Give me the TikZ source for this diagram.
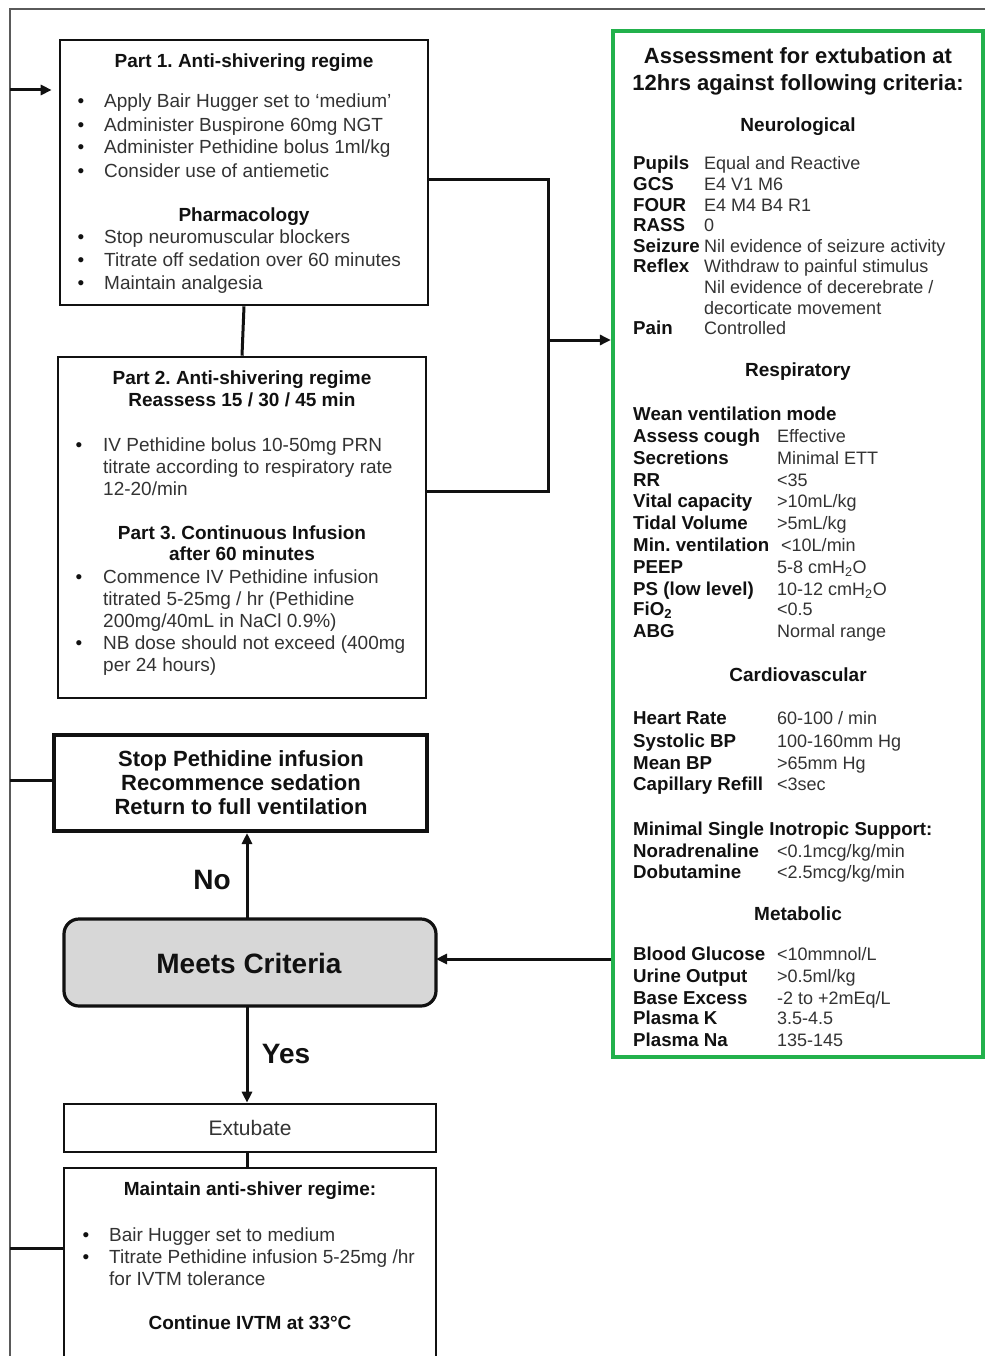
\documentclass[tikz,border=0pt]{standalone}
\usepackage{fontspec}
\setmainfont{Liberation Sans}
\usetikzlibrary{arrows.meta}
\frenchspacing

\definecolor{framegray}{HTML}{5A5A5A}
\definecolor{critgreen}{HTML}{22B14C}
\definecolor{boxgray}{HTML}{D7D7D7}
\definecolor{txt}{HTML}{333333}
\definecolor{ink}{HTML}{111111}

% bullet item: name, bullet x, text x, y, text
\newcommand\bitem[5]{%
  \node[bul] (#1b) at (#2,#4) {\textbullet};
  \node[tl] (#1) at (#3,#4) {#5};}
% continuation line of a bullet item
\newcommand\bcont[4]{\node[tl] (#1) at (#2,#3) {#4};}
% criteria row: name, y, label, value (value column in \valx)
\newcommand\valx{704}
\newcommand\crit[4]{%
  \node[clab] (#1l) at (633,#2) {#3};
  \node[cval] (#1v) at (\valx,#2) {#4};}

\begin{document}
\begin{tikzpicture}[x=1pt,y=-1pt,
  box/.style={draw=ink, line width=2.6pt, inner sep=0, fill=white},
  stopbox/.style={box, line width=4pt},
  meets/.style={box, line width=3.2pt, fill=boxgray, rounded corners=15pt},
  critbox/.style={draw=critgreen, line width=4.2pt, inner sep=0},
  conn/.style={draw=ink, line width=3pt},
  arr/.style={conn, -{Triangle[length=11pt,width=10pt]}},
  t/.style={inner sep=0, text height=0.72em, text depth=0pt, text=txt,
    yshift=-4pt, font=\fontsize{19}{23}\selectfont},
  tb/.style={t, text=ink, font=\fontsize{19}{23}\selectfont\bfseries},
  tl/.style={t, anchor=west},
  bul/.style={t, text=ink},
  stoptxt/.style={tb, font=\fontsize{22}{24}\selectfont\bfseries},
  big/.style={tb, font=\fontsize{28}{32}\selectfont\bfseries},
  gtitle/.style={tb, font=\fontsize{22}{27}\selectfont\bfseries},
  clab/.style={tb, anchor=west, font=\fontsize{18.7}{23}\selectfont\bfseries},
  cval/.style={t, anchor=west, font=\fontsize{18}{21}\selectfont},
]
\useasboundingbox (0,0) rectangle (985,1356);
\clip (0,0) rectangle (985,1356);
\fill[white] (0,0) rectangle (985,1356);

% page frame
\draw[framegray, line width=1.6pt] (985,9) -- (10,9) -- (10,1370);

% ---------------- left column boxes ----------------
\node[box, minimum width=368pt, minimum height=265pt] (p1) at (244,172.5) {};
\node[box, minimum width=368pt, minimum height=341pt] (p2) at (242,527.5) {};
\node[stopbox, minimum width=373pt, minimum height=96pt] (st) at (240.5,783) {};
\node[meets, minimum width=372pt, minimum height=87pt] (mc) at (250,962.5) {};
\node[box, minimum width=372pt, minimum height=48pt] (ex) at (250,1128) {};
\node[box, minimum width=372pt, minimum height=212pt] (mt) at (250,1274) {};

% ---------------- criteria box ----------------
\node[critbox, minimum width=370pt, minimum height=1026pt] (gb) at (798,544) {};

% ---------------- connectors ----------------
\coordinate (fa) at (10,90);
\draw[arr, shorten >=7pt] (fa) -- (p1.west |- fa);
\draw[conn] (p1.south) -- (p2.north);
\coordinate (ja) at (548,180);
\coordinate (jb) at (548,491);
\coordinate (jm) at (548,340);
\draw[conn] (p1.east |- ja) -- (ja) -- (jb) -- (p2.east |- jb);
\draw[arr] (jm) -- (gb.west |- jm);
\coordinate (fs) at (10,780);
\draw[conn] (fs) -- (st.west |- fs);
\coordinate (mn) at (247,919);
\draw[arr] (mn) -- (mn |- st.south);
\coordinate (mr) at (436,959);
\draw[arr] (gb.west |- mr) -- (mr);
\coordinate (ms) at (247,1006);
\draw[arr] (ms) -- (ms |- ex.north);
\draw[conn] (ex.south -| ms) -- (mt.north -| ms);
\coordinate (fm) at (10,1248);
\draw[conn] (fm) -- (mt.west |- fm);

\node[big] (no) at (212,882) {No};
\node[big] (yes) at (286,1056) {Yes};
\node[big] (mct) at (249,966) {Meets Criteria};
\node[t, font=\fontsize{21}{24}\selectfont] (ext) at (250,1128) {Extubate};

% ---------------- Part 1 ----------------
\node[tb] (p1t) at (244,60) {Part 1. Anti-shivering regime};
\bitem{p1a}{81}{104}{100}{Apply Bair Hugger set to ‘medium’}
\bitem{p1b}{81}{104}{124}{Administer Buspirone 60mg NGT}
\bitem{p1c}{81}{104}{146}{Administer Pethidine bolus 1ml/kg}
\bitem{p1d}{81}{104}{170}{Consider use of antiemetic}
\node[tb] (p1h) at (244,214) {Pharmacology};
\bitem{p1e}{81}{104}{236}{Stop neuromuscular blockers}
\bitem{p1f}{81}{104}{259}{Titrate off sedation over 60 minutes}
\bitem{p1g}{81}{104}{282}{Maintain analgesia}

% ---------------- Part 2 / Part 3 ----------------
\node[tb] (p2t) at (242,377) {Part 2. Anti-shivering regime};
\node[tb] (p2s) at (242,399) {Reassess 15 / 30 / 45 min};
\bitem{p2a}{79}{103}{444}{IV Pethidine bolus 10-50mg PRN}
\bcont{p2a2}{103}{466}{titrate according to respiratory rate}
\bcont{p2a3}{103}{488}{12-20/min}
\node[tb] (p3t) at (242,532) {Part 3. Continuous Infusion};
\node[tb] (p3s) at (242,553) {after 60 minutes};
\bitem{p3a}{79}{103}{576}{Commence IV Pethidine infusion}
\bcont{p3a2}{103}{598}{titrated 5-25mg / hr (Pethidine}
\bcont{p3a3}{103}{620}{200mg/40mL in NaCl 0.9\%)}
\bitem{p3b}{79}{103}{642}{NB dose should not exceed (400mg}
\bcont{p3b2}{103}{664}{per 24 hours)}

% ---------------- stop box ----------------
\node[stoptxt] (st1) at (241,759) {Stop Pethidine infusion};
\node[stoptxt] (st2) at (241,783) {Recommence sedation};
\node[stoptxt] (st3) at (241,807) {Return to full ventilation};

% ---------------- maintain box ----------------
\node[tb] (mtt) at (250,1188) {Maintain anti-shiver regime:};
\bitem{mta}{86}{109}{1234}{Bair Hugger set to medium}
\bitem{mtb}{86}{109}{1256}{Titrate Pethidine infusion 5-25mg /hr}
\bcont{mtb2}{109}{1278}{for IVTM tolerance}
\node[tb] (mtc) at (250,1322) {Continue IVTM at 33°C};

% ---------------- criteria text ----------------
\node[gtitle] (gt1) at (798,56) {Assessment for extubation at};
\node[gtitle] (gt2) at (798,83) {12hrs against following criteria:};

\node[tb] (hneu) at (798,124) {Neurological};
\renewcommand\valx{704}
\crit{pup}{162}{Pupils}{Equal and Reactive}
\crit{gcs}{183}{GCS}{E4 V1 M6}
\crit{four}{204}{FOUR}{E4 M4 B4 R1}
\crit{rass}{224}{RASS}{0}
\crit{seiz}{245}{Seizure}{Nil evidence of seizure activity}
\crit{refl}{265}{Reflex}{Withdraw to painful stimulus}
\node[cval] (refl2) at (704,286) {Nil evidence of decerebrate /};
\node[cval] (refl3) at (704,307) {decorticate movement};
\crit{pain}{327}{Pain}{Controlled}

\node[tb] (hres) at (798,369) {Respiratory};
\renewcommand\valx{777}
\node[clab] (wean) at (633,413) {Wean ventilation mode};
\crit{cough}{435}{Assess cough}{Effective}
\crit{secr}{457}{Secretions}{Minimal ETT}
\crit{rr}{479}{RR}{<35}
\crit{vc}{500}{Vital capacity}{>10mL/kg}
\crit{tv}{522}{Tidal Volume}{>5mL/kg}
\node[clab] (mvl) at (633,544) {Min. ventilation};
\node[cval] (mvv) at (781,544) {<10L/min};
\crit{peep}{566}{PEEP}{5-8 cmH\textsubscript{2}O}
\crit{ps}{588}{PS (low level)}{10-12 cmH\textsubscript{2}O}
\crit{fio}{608}{FiO\textsubscript{2}}{<0.5}
\crit{abg}{630}{ABG}{Normal range}

\node[tb] (hcar) at (798,674) {Cardiovascular};
\crit{hr}{717}{Heart Rate}{60-100 / min}
\crit{sbp}{740}{Systolic BP}{100-160mm Hg}
\crit{mbp}{762}{Mean BP}{>65mm Hg}
\crit{cap}{783}{Capillary Refill}{<3sec}
\node[clab] (ino) at (633,828) {Minimal Single Inotropic Support:};
\crit{nor}{850}{Noradrenaline}{<0.1mcg/kg/min}
\crit{dob}{871}{Dobutamine}{<2.5mcg/kg/min}

\node[tb] (hmet) at (798,913) {Metabolic};
\crit{glu}{953}{Blood Glucose}{<10mmnol/L}
\crit{uo}{975}{Urine Output}{>0.5ml/kg}
\crit{be}{997}{Base Excess}{-2 to +2mEq/L}
\crit{pk}{1017}{Plasma K}{3.5-4.5}
\crit{pna}{1039}{Plasma Na}{135-145}
\end{tikzpicture}
\end{document}
